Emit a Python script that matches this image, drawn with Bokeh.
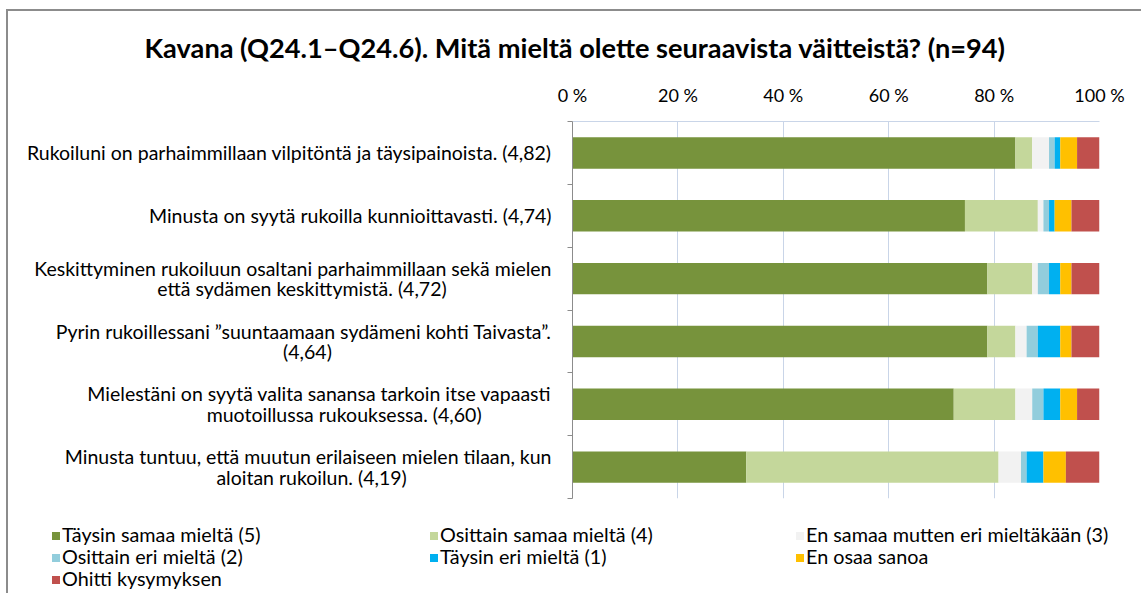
from bokeh.plotting import figure
from bokeh.layouts import column
from bokeh.models import Range1d, FixedTicker, ColumnDataSource, Div
from bokeh.embed import file_html
from bokeh.resources import INLINE

TITLE = "Kavana (Q24.1–Q24.6). Mitä mieltä olette seuraavista väitteistä? (n=94)"
N_RESP = 94

categories = [
    "Rukoiluni on parhaimmillaan vilpitöntä ja täysipainoista. (4,82)",
    "Minusta on syytä rukoilla kunnioittavasti. (4,74)",
    "Keskittyminen rukoiluun osaltani parhaimmillaan sekä mielen\nettä sydämen keskittymistä. (4,72)",
    "Pyrin rukoillessani ”suuntaamaan sydämeni kohti Taivasta”.\n(4,64)",
    "Mielestäni on syytä valita sanansa tarkoin itse vapaasti\nmuotoillussa rukouksessa. (4,60)",
    "Minusta tuntuu, että muutun erilaiseen mielen tilaan, kun\naloitan rukoilun. (4,19)",
]

series_names = [
    "Täysin samaa mieltä (5)",
    "Osittain samaa mieltä (4)",
    "En samaa mutten eri mieltäkään (3)",
    "Osittain eri mieltä (2)",
    "Täysin eri mieltä (1)",
    "En osaa sanoa",
    "Ohitti kysymyksen",
]
series_colors = ["#77933C", "#C4D79B", "#F2F2F2", "#92CDDC", "#00B0F0", "#FFC000", "#C0504D"]

# answer counts per statement (n = 94)
taysin_samaa = [79, 70, 74, 74, 68, 31]
osittain_samaa = [3, 13, 8, 5, 11, 45]
en_samaa_eri = [3, 1, 1, 2, 3, 4]
osittain_eri = [1, 1, 2, 2, 2, 1]
taysin_eri = [1, 1, 2, 4, 3, 3]
en_osaa = [3, 3, 2, 2, 3, 4]
ohitti = [4, 5, 5, 5, 4, 6]

tick_values = [0, 20, 40, 60, 80, 100]
tick_labels = ["0 %", "20 %", "40 %", "60 %", "80 %", "100 %"]

# styling
FONT = "Lato"
GRID = "#C9D5E8"
AXIS = "#8C8C8C"
# no-break spaces appended to the 2nd line so that both lines look centred
line2_pad = [0, 0, 21, 44, 14, 29]

n_cat = len(categories)
band_pos = [n_cat - i - 0.5 for i in range(n_cat)]   # first statement on top
display_labels = [c + "\u00a0" * k for c, k in zip(categories, line2_pad)]

series_counts = [taysin_samaa, osittain_samaa, en_samaa_eri, osittain_eri,
                 taysin_eri, en_osaa, ohitti]
keys = [f"s{i}" for i in range(len(series_names))]
data = {"pos": band_pos, "cat": categories}
for k, counts in zip(keys, series_counts):
    data[k] = [c / N_RESP * 100 for c in counts]
source = ColumnDataSource(data)

fig = figure(width=1133, height=490, x_range=Range1d(0, 100),
             y_range=Range1d(0, n_cat),
             x_axis_location="above", y_axis_location="left",
             output_backend="svg", toolbar_location=None,
             min_border_left=564, min_border_right=42, min_border_top=108,
             min_border_bottom=3)
fig.outline_line_color = None
fig.background_fill_color = "white"
fig.border_fill_color = "white"

renderers = fig.hbar_stack(keys, y="pos", height=0.5, fill_color=series_colors,
                           line_color=None, source=source)

# top percent axis
xa = fig.xaxis[0]
xa.ticker = FixedTicker(ticks=tick_values)
xa.major_label_overrides = dict(zip(tick_values, tick_labels))
xa.major_tick_in = 0
xa.major_tick_out = 0
xa.minor_tick_line_color = None
xa.axis_line_color = GRID
xa.major_label_standoff = 16
xa.major_label_text_font = FONT
xa.major_label_text_font_size = "18px"
xa.major_label_text_color = "#000000"

fig.xgrid.ticker = FixedTicker(ticks=tick_values)
fig.xgrid.grid_line_color = GRID
fig.ygrid.visible = False

# left category axis: labels at band centres, short ticks at band boundaries
ya = fig.yaxis[0]
ya.ticker = FixedTicker(ticks=band_pos, minor_ticks=list(range(n_cat + 1)))
ya.major_label_overrides = dict(zip(band_pos, display_labels))
ya.major_tick_line_color = None
ya.major_tick_in = 0
ya.major_tick_out = 0
ya.minor_tick_line_color = AXIS
ya.minor_tick_in = 0
ya.minor_tick_out = 5
ya.axis_line_color = AXIS
ya.major_label_standoff = 16
ya.major_label_text_font = FONT
ya.major_label_text_font_size = "19.5px"
ya.major_label_text_color = "#000000"
ya.major_label_text_line_height = 0.9

# title
fig.title.text = TITLE
fig.title.align = "left"
fig.title.offset = -428
fig.title.text_font = FONT
fig.title.text_font_size = "27.2px"
fig.title.text_font_style = "bold"
fig.title.text_color = "#000000"
fig.title.standoff = 34

# legend strip below the chart: Excel's row-major order in three even columns
legend_cols_x = [39, 417, 783]
legend_rows_y = [17, 39, 61]
items_html = []
for i, (name, colr) in enumerate(zip(series_names, series_colors)):
    x = legend_cols_x[i % 3]
    y = legend_rows_y[i // 3]
    items_html.append(
        f'<div style="position:absolute;left:{x}px;top:{y}px;height:23px;line-height:23px;'
        f'white-space:nowrap;">'
        f'<span style="display:inline-block;width:8px;height:8px;background:{colr};'
        f'margin-right:2px;vertical-align:middle;position:relative;top:-1px;"></span>{name}</div>'
    )
legend_div = Div(
    width=1133, height=92,
    text=(f'<div style="position:relative;width:1133px;height:92px;font-family:{FONT};'
          f'font-size:19.8px;color:#000000;">' + "".join(items_html) + "</div>"),
)

p = column(fig, legend_div, spacing=0,
           styles={"margin-left": "6px", "margin-top": "9px",
                   "border-left": f"2px solid {AXIS}", "border-top": f"2px solid {AXIS}"})

open("out.html", "w").write(file_html(p, INLINE))
